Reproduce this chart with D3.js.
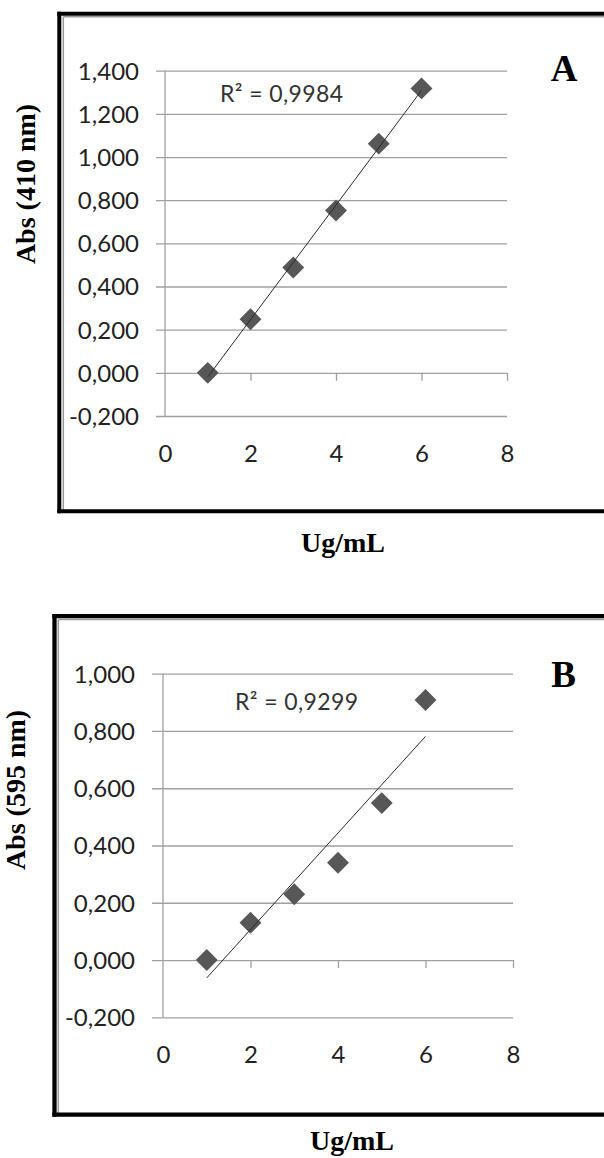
<!DOCTYPE html>
<html>
<head>
<meta charset="utf-8">
<script src="https://cdn.jsdelivr.net/npm/d3@7"></script>
<style>
  html, body { margin: 0; padding: 0; background: #ffffff; }
  svg { display: block; }
</style>
</head>
<body>
<script>
// ---------- data ----------
const concentrations = [1, 2, 3, 4, 5, 6];
const absA = [0.000, 0.248, 0.488, 0.752, 1.062, 1.318];
const absB = [0.000, 0.130, 0.230, 0.340, 0.548, 0.908];
const xTickValues = [0, 2, 4, 6, 8];
const yTicksA = [-0.2, 0, 0.2, 0.4, 0.6, 0.8, 1.0, 1.2, 1.4];
const yTicksB = [-0.2, 0, 0.2, 0.4, 0.6, 0.8, 1.0];
const r2Labels = ["R² = 0,9984", "R² = 0,9299"];
const panelLetters = ["A", "B"];
const yTitles = ["Abs (410 nm)", "Abs (595 nm)"];
const xTitle = "Ug/mL";

// ---------- layout ----------
const W = 604, H = 1158;
const svg = d3.select("body").append("svg").attr("width", W).attr("height", H);

const locale = d3.formatLocale({decimal: ",", thousands: ".", grouping: [3], currency: ["", ""], minus: "-"});
const fmt = locale.format(".3f");

const tickFont = "Lato, 'Open Sans', sans-serif";
const serif = "'Liberation Serif', 'Times New Roman', serif";

const panels = [
  {values: absA, yTicks: yTicksA, r2: r2Labels[0], letter: panelLetters[0], yTitle: yTitles[0],
   xRange: [165, 507], yDomain: [-0.2, 1.4], yRange: [416, 70.7], gridStart: 156,
   frame: {left: 59.3, top: 13.7, bottom: 511.3, bw: 4, grayX: 63.3, grayY: 16.8},
   r2Pos: [220, 102], letterPos: [564, 81], yTitlePos: [35, 184], xTitlePos: [343, 552]},
  {values: absB, yTicks: yTicksB, r2: r2Labels[1], letter: panelLetters[1], yTitle: yTitles[1],
   xRange: [163, 513], yDomain: [-0.2, 1.0], yRange: [1017.3, 673.7], gridStart: 152,
   frame: {left: 54.5, top: 616.2, bottom: 1114.7, bw: 4.3, grayX: 58.3, grayY: 619.6},
   r2Pos: [235, 710], letterPos: [563.5, 687], yTitlePos: [25, 790], xTitlePos: [352, 1150]}
];

panels.forEach(p => {
  const g = svg.append("g");
  const x = d3.scaleLinear().domain([0, 8]).range(p.xRange);
  const y = d3.scaleLinear().domain(p.yDomain).range(p.yRange);
  const f = p.frame;

  // frame: thick black + thin gray inner line (right side cut off by page)
  g.append("line").attr("x1", f.grayX).attr("x2", W).attr("y1", f.grayY).attr("y2", f.grayY)
    .attr("stroke", "#9a9a9a").attr("stroke-width", 1.5);
  g.append("line").attr("x1", f.grayX).attr("x2", f.grayX).attr("y1", f.grayY).attr("y2", f.bottom)
    .attr("stroke", "#9a9a9a").attr("stroke-width", 1.5);
  g.append("line").attr("x1", f.left - f.bw / 2).attr("x2", W).attr("y1", f.top).attr("y2", f.top)
    .attr("stroke", "#000").attr("stroke-width", f.bw);
  g.append("line").attr("x1", f.left - f.bw / 2).attr("x2", W).attr("y1", f.bottom).attr("y2", f.bottom)
    .attr("stroke", "#000").attr("stroke-width", f.bw);
  g.append("line").attr("x1", f.left).attr("x2", f.left).attr("y1", f.top - f.bw / 2).attr("y2", f.bottom + f.bw / 2)
    .attr("stroke", "#000").attr("stroke-width", f.bw);

  // y gridlines + labels
  const yAxis = d3.axisLeft(y).tickValues(p.yTicks).tickFormat(fmt)
    .tickSize(-(p.xRange[1] - p.gridStart)).tickPadding(17);
  const ya = g.append("g").attr("transform", `translate(${p.gridStart},0)`).call(yAxis);
  ya.select(".domain").remove();
  ya.selectAll("line").attr("stroke", "#a0a0a0").attr("stroke-width", 1.3);
  ya.selectAll("text").attr("font-family", tickFont).attr("font-size", 24).attr("fill", "#222").attr("dy", "0.35em");

  // vertical axis line
  g.append("line").attr("x1", x(0)).attr("x2", x(0)).attr("y1", y(p.yDomain[1])).attr("y2", y(p.yDomain[0]))
    .attr("stroke", "#a0a0a0").attr("stroke-width", 1.3);

  // x tick marks at y = 0
  const xTickAxis = d3.axisBottom(x).tickValues(xTickValues.filter(v => v > 0)).tickSize(8).tickFormat("");
  const xt = g.append("g").attr("transform", `translate(0,${y(0)})`).call(xTickAxis);
  xt.select(".domain").remove();
  xt.selectAll("line").attr("stroke", "#a0a0a0").attr("stroke-width", 1.3);

  // x labels below plot
  const xLabelAxis = d3.axisBottom(x).tickValues(xTickValues).tickSize(0).tickPadding(29);
  const xl = g.append("g").attr("transform", `translate(0,${y(p.yDomain[0])})`).call(xLabelAxis);
  xl.select(".domain").remove();
  xl.selectAll("text").attr("font-family", tickFont).attr("font-size", 24).attr("fill", "#222");

  // trendline (least squares fit of the data)
  const mx = d3.mean(concentrations), my = d3.mean(p.values);
  const sxy = d3.sum(concentrations, (c, i) => (c - mx) * (p.values[i] - my));
  const sxx = d3.sum(concentrations, c => (c - mx) * (c - mx));
  const slope = sxy / sxx, icpt = my - slope * mx;
  const ends = [d3.min(concentrations), d3.max(concentrations)];

  // markers
  const sym = d3.symbol().type(d3.symbolSquare).size(240);
  g.selectAll("path.pt").data(concentrations).join("path").attr("class", "pt")
    .attr("d", sym)
    .attr("transform", (c, i) => `translate(${x(c)},${y(p.values[i])}) rotate(45)`)
    .attr("fill", "#575757");

  g.append("line")
    .attr("x1", x(ends[0])).attr("y1", y(slope * ends[0] + icpt))
    .attr("x2", x(ends[1])).attr("y2", y(slope * ends[1] + icpt))
    .attr("stroke", "#2a2a2a").attr("stroke-width", 1);

  // R² label
  g.append("text").attr("x", p.r2Pos[0]).attr("y", p.r2Pos[1])
    .attr("font-family", tickFont).attr("font-size", 23).attr("fill", "#333")
    .attr("letter-spacing", 0.4)
    .text(p.r2);

  // panel letter
  g.append("text").attr("x", p.letterPos[0]).attr("y", p.letterPos[1]).attr("text-anchor", "middle")
    .attr("font-family", serif).attr("font-weight", "bold").attr("font-size", 37).attr("fill", "#000")
    .text(p.letter);

  // axis titles
  g.append("text").attr("transform", `translate(${p.yTitlePos[0]},${p.yTitlePos[1]}) rotate(-90)`)
    .attr("text-anchor", "middle")
    .attr("font-family", serif).attr("font-weight", "bold").attr("font-size", 28).attr("fill", "#000")
    .text(p.yTitle);
  g.append("text").attr("x", p.xTitlePos[0]).attr("y", p.xTitlePos[1]).attr("text-anchor", "middle")
    .attr("font-family", serif).attr("font-weight", "bold").attr("font-size", 28).attr("fill", "#000")
    .text(xTitle);
});
</script>
</body>
</html>
